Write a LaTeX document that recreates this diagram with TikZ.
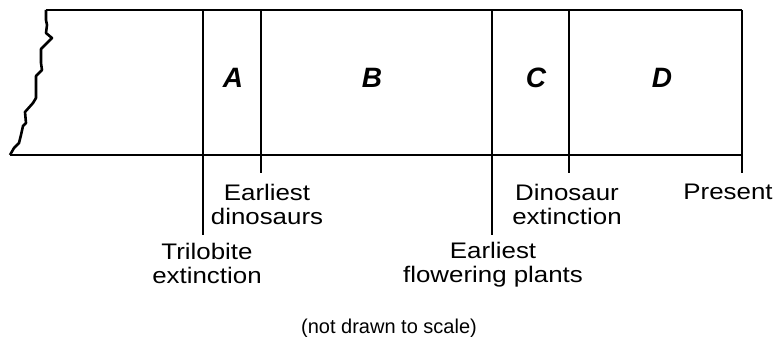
\documentclass[tikz,border=0pt]{standalone}
\usepackage{fontspec}
\setmainfont{Liberation Sans}[FakeStretch=1.15]
\newfontfamily\erafont{Liberation Sans}
\usetikzlibrary{positioning}

\begin{document}
\begin{tikzpicture}[x=1pt,y=-1pt,line width=2.6pt,
	lbl/.style={align=center,inner sep=0pt,font=\fontsize{22.5}{24}\selectfont},
	era/.style={font=\erafont\fontsize{28}{28}\selectfont\bfseries\itshape}]
	\useasboundingbox (0,0) rectangle (776,337);
	%box and torn edge----------------------------
	\draw[line join=round] plot coordinates {(46,10) (46,20) (47,25) (46,33) (52,38) (41,49) (41,63) (42,70) (36,76) (36,98) (33,103) (25,112) (26,123) (23,126) (21,135) (19,143) (14,148) (10,155)}; %torn edge
	\draw (46,10) -- (742,10); %top
	\draw[line width=1.8pt] (10,155) -- (742,155); %bottom
	
	%ticks------------------------------------------
	\coordinate (trilo top) at (203,10);   \coordinate (trilo end) at (203,235);
	\coordinate (dino top) at (261,10);    \coordinate (dino end) at (261,173);
	\coordinate (flower top) at (492,10);  \coordinate (flower end) at (492,235);
	\coordinate (extinct top) at (569,10); \coordinate (extinct end) at (569,173);
	\coordinate (present top) at (742,10); \coordinate (present end) at (742,173);
	\draw (trilo top) -- (trilo end); %Trilobite extinction
	\draw (dino top) -- (dino end); %Earliest dinosaurs
	\draw (flower top) -- (flower end); %Earliest flowering plants
	\draw (extinct top) -- (extinct end); %Dinosaur extinction
	\draw (present top) -- (present end); %Present
	
	%labels-----------------------------------------
	\node[lbl, below=7pt of trilo end, xshift=4pt] (trilo) {Trilobite\\extinction};
	\node[lbl, below=10pt of dino end, xshift=6pt] (dino) {Earliest\\dinosaurs};
	\node[lbl, below=6pt of flower end, xshift=1pt] (flower) {Earliest\\flowering plants};
	\node[lbl, below=10pt of extinct end, xshift=-2pt] (extinct) {Dinosaur\\extinction};
	\node[lbl, below=10pt of present end, xshift=-14pt] (present) {Present};
	
	%eras
	\node[era] (A) at (233,78) {A};
	\node[era] (B) at (372,78) {B};
	\node[era] (C) at (536,78) {C};
	\node[era] (D) at (662,78) {D};
	
	\node[lbl, anchor=north, font=\erafont\fontsize{20}{22}\selectfont] (scale) at (389,318) {(not drawn to scale)}; %note
\end{tikzpicture}
\end{document}
